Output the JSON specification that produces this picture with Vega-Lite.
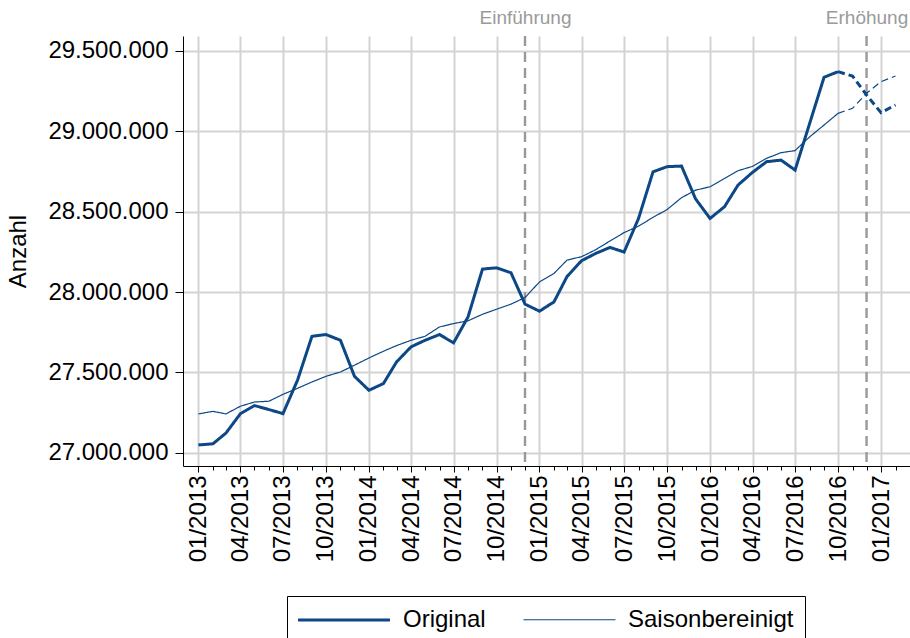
{
  "$schema": "https://vega.github.io/schema/vega-lite/v6.json",
  "width": 727,
  "height": 430,
  "autosize": {"type": "none"},
  "padding": {"left": 183, "top": 36, "right": 0, "bottom": 172},
  "background": "white",
  "config": {
    "font": "Liberation Sans",
    "view": {"stroke": null},
    "axis": {"labelColor": "black", "titleColor": "black", "titleFontWeight": "normal"}
  },
  "datasets": {
    "reihen": [
      {"monat": "2013-01-01", "reihe": "Original", "status": "endgültig", "anzahl": 27049000},
      {"monat": "2013-02-01", "reihe": "Original", "status": "endgültig", "anzahl": 27056000},
      {"monat": "2013-03-01", "reihe": "Original", "status": "endgültig", "anzahl": 27123000},
      {"monat": "2013-04-01", "reihe": "Original", "status": "endgültig", "anzahl": 27244000},
      {"monat": "2013-05-01", "reihe": "Original", "status": "endgültig", "anzahl": 27294000},
      {"monat": "2013-06-01", "reihe": "Original", "status": "endgültig", "anzahl": 27269000},
      {"monat": "2013-07-01", "reihe": "Original", "status": "endgültig", "anzahl": 27244000},
      {"monat": "2013-08-01", "reihe": "Original", "status": "endgültig", "anzahl": 27451000},
      {"monat": "2013-09-01", "reihe": "Original", "status": "endgültig", "anzahl": 27725000},
      {"monat": "2013-10-01", "reihe": "Original", "status": "endgültig", "anzahl": 27736000},
      {"monat": "2013-11-01", "reihe": "Original", "status": "endgültig", "anzahl": 27700000},
      {"monat": "2013-12-01", "reihe": "Original", "status": "endgültig", "anzahl": 27476000},
      {"monat": "2014-01-01", "reihe": "Original", "status": "endgültig", "anzahl": 27389000},
      {"monat": "2014-02-01", "reihe": "Original", "status": "endgültig", "anzahl": 27431000},
      {"monat": "2014-03-01", "reihe": "Original", "status": "endgültig", "anzahl": 27565000},
      {"monat": "2014-04-01", "reihe": "Original", "status": "endgültig", "anzahl": 27659000},
      {"monat": "2014-05-01", "reihe": "Original", "status": "endgültig", "anzahl": 27700000},
      {"monat": "2014-06-01", "reihe": "Original", "status": "endgültig", "anzahl": 27736000},
      {"monat": "2014-07-01", "reihe": "Original", "status": "endgültig", "anzahl": 27684000},
      {"monat": "2014-08-01", "reihe": "Original", "status": "endgültig", "anzahl": 27845000},
      {"monat": "2014-09-01", "reihe": "Original", "status": "endgültig", "anzahl": 28143000},
      {"monat": "2014-10-01", "reihe": "Original", "status": "endgültig", "anzahl": 28151000},
      {"monat": "2014-11-01", "reihe": "Original", "status": "endgültig", "anzahl": 28120000},
      {"monat": "2014-12-01", "reihe": "Original", "status": "endgültig", "anzahl": 27925000},
      {"monat": "2015-01-01", "reihe": "Original", "status": "endgültig", "anzahl": 27881000},
      {"monat": "2015-02-01", "reihe": "Original", "status": "endgültig", "anzahl": 27939000},
      {"monat": "2015-03-01", "reihe": "Original", "status": "endgültig", "anzahl": 28097000},
      {"monat": "2015-04-01", "reihe": "Original", "status": "endgültig", "anzahl": 28195000},
      {"monat": "2015-05-01", "reihe": "Original", "status": "endgültig", "anzahl": 28240000},
      {"monat": "2015-06-01", "reihe": "Original", "status": "endgültig", "anzahl": 28278000},
      {"monat": "2015-07-01", "reihe": "Original", "status": "endgültig", "anzahl": 28249000},
      {"monat": "2015-08-01", "reihe": "Original", "status": "endgültig", "anzahl": 28458000},
      {"monat": "2015-09-01", "reihe": "Original", "status": "endgültig", "anzahl": 28748000},
      {"monat": "2015-10-01", "reihe": "Original", "status": "endgültig", "anzahl": 28780000},
      {"monat": "2015-11-01", "reihe": "Original", "status": "endgültig", "anzahl": 28784000},
      {"monat": "2015-12-01", "reihe": "Original", "status": "endgültig", "anzahl": 28580000},
      {"monat": "2016-01-01", "reihe": "Original", "status": "endgültig", "anzahl": 28458000},
      {"monat": "2016-02-01", "reihe": "Original", "status": "endgültig", "anzahl": 28531000},
      {"monat": "2016-03-01", "reihe": "Original", "status": "endgültig", "anzahl": 28666000},
      {"monat": "2016-04-01", "reihe": "Original", "status": "endgültig", "anzahl": 28745000},
      {"monat": "2016-05-01", "reihe": "Original", "status": "endgültig", "anzahl": 28811000},
      {"monat": "2016-06-01", "reihe": "Original", "status": "endgültig", "anzahl": 28821000},
      {"monat": "2016-07-01", "reihe": "Original", "status": "endgültig", "anzahl": 28759000},
      {"monat": "2016-08-01", "reihe": "Original", "status": "endgültig", "anzahl": 29047000},
      {"monat": "2016-09-01", "reihe": "Original", "status": "endgültig", "anzahl": 29336000},
      {"monat": "2016-10-01", "reihe": "Original", "status": "endgültig", "anzahl": 29371000},
      {"monat": "2016-10-01", "reihe": "Original", "status": "vorläufig", "anzahl": 29371000},
      {"monat": "2016-11-01", "reihe": "Original", "status": "vorläufig", "anzahl": 29344000},
      {"monat": "2016-12-01", "reihe": "Original", "status": "vorläufig", "anzahl": 29226000},
      {"monat": "2017-01-01", "reihe": "Original", "status": "vorläufig", "anzahl": 29116000},
      {"monat": "2017-02-01", "reihe": "Original", "status": "vorläufig", "anzahl": 29164000},
      {"monat": "2013-01-01", "reihe": "Saisonbereinigt", "status": "endgültig", "anzahl": 27242000},
      {"monat": "2013-02-01", "reihe": "Saisonbereinigt", "status": "endgültig", "anzahl": 27258000},
      {"monat": "2013-03-01", "reihe": "Saisonbereinigt", "status": "endgültig", "anzahl": 27242000},
      {"monat": "2013-04-01", "reihe": "Saisonbereinigt", "status": "endgültig", "anzahl": 27290000},
      {"monat": "2013-05-01", "reihe": "Saisonbereinigt", "status": "endgültig", "anzahl": 27316000},
      {"monat": "2013-06-01", "reihe": "Saisonbereinigt", "status": "endgültig", "anzahl": 27321000},
      {"monat": "2013-07-01", "reihe": "Saisonbereinigt", "status": "endgültig", "anzahl": 27364000},
      {"monat": "2013-08-01", "reihe": "Saisonbereinigt", "status": "endgültig", "anzahl": 27401000},
      {"monat": "2013-09-01", "reihe": "Saisonbereinigt", "status": "endgültig", "anzahl": 27441000},
      {"monat": "2013-10-01", "reihe": "Saisonbereinigt", "status": "endgültig", "anzahl": 27476000},
      {"monat": "2013-11-01", "reihe": "Saisonbereinigt", "status": "endgültig", "anzahl": 27503000},
      {"monat": "2013-12-01", "reihe": "Saisonbereinigt", "status": "endgültig", "anzahl": 27545000},
      {"monat": "2014-01-01", "reihe": "Saisonbereinigt", "status": "endgültig", "anzahl": 27590000},
      {"monat": "2014-02-01", "reihe": "Saisonbereinigt", "status": "endgültig", "anzahl": 27632000},
      {"monat": "2014-03-01", "reihe": "Saisonbereinigt", "status": "endgültig", "anzahl": 27667000},
      {"monat": "2014-04-01", "reihe": "Saisonbereinigt", "status": "endgültig", "anzahl": 27700000},
      {"monat": "2014-05-01", "reihe": "Saisonbereinigt", "status": "endgültig", "anzahl": 27725000},
      {"monat": "2014-06-01", "reihe": "Saisonbereinigt", "status": "endgültig", "anzahl": 27783000},
      {"monat": "2014-07-01", "reihe": "Saisonbereinigt", "status": "endgültig", "anzahl": 27804000},
      {"monat": "2014-08-01", "reihe": "Saisonbereinigt", "status": "endgültig", "anzahl": 27821000},
      {"monat": "2014-09-01", "reihe": "Saisonbereinigt", "status": "endgültig", "anzahl": 27862000},
      {"monat": "2014-10-01", "reihe": "Saisonbereinigt", "status": "endgültig", "anzahl": 27893000},
      {"monat": "2014-11-01", "reihe": "Saisonbereinigt", "status": "endgültig", "anzahl": 27925000},
      {"monat": "2014-12-01", "reihe": "Saisonbereinigt", "status": "endgültig", "anzahl": 27966000},
      {"monat": "2015-01-01", "reihe": "Saisonbereinigt", "status": "endgültig", "anzahl": 28063000},
      {"monat": "2015-02-01", "reihe": "Saisonbereinigt", "status": "endgültig", "anzahl": 28116000},
      {"monat": "2015-03-01", "reihe": "Saisonbereinigt", "status": "endgültig", "anzahl": 28199000},
      {"monat": "2015-04-01", "reihe": "Saisonbereinigt", "status": "endgültig", "anzahl": 28220000},
      {"monat": "2015-05-01", "reihe": "Saisonbereinigt", "status": "endgültig", "anzahl": 28263000},
      {"monat": "2015-06-01", "reihe": "Saisonbereinigt", "status": "endgültig", "anzahl": 28318000},
      {"monat": "2015-07-01", "reihe": "Saisonbereinigt", "status": "endgültig", "anzahl": 28370000},
      {"monat": "2015-08-01", "reihe": "Saisonbereinigt", "status": "endgültig", "anzahl": 28410000},
      {"monat": "2015-09-01", "reihe": "Saisonbereinigt", "status": "endgültig", "anzahl": 28465000},
      {"monat": "2015-10-01", "reihe": "Saisonbereinigt", "status": "endgültig", "anzahl": 28513000},
      {"monat": "2015-11-01", "reihe": "Saisonbereinigt", "status": "endgültig", "anzahl": 28587000},
      {"monat": "2015-12-01", "reihe": "Saisonbereinigt", "status": "endgültig", "anzahl": 28634000},
      {"monat": "2016-01-01", "reihe": "Saisonbereinigt", "status": "endgültig", "anzahl": 28655000},
      {"monat": "2016-02-01", "reihe": "Saisonbereinigt", "status": "endgültig", "anzahl": 28707000},
      {"monat": "2016-03-01", "reihe": "Saisonbereinigt", "status": "endgültig", "anzahl": 28755000},
      {"monat": "2016-04-01", "reihe": "Saisonbereinigt", "status": "endgültig", "anzahl": 28782000},
      {"monat": "2016-05-01", "reihe": "Saisonbereinigt", "status": "endgültig", "anzahl": 28832000},
      {"monat": "2016-06-01", "reihe": "Saisonbereinigt", "status": "endgültig", "anzahl": 28867000},
      {"monat": "2016-07-01", "reihe": "Saisonbereinigt", "status": "endgültig", "anzahl": 28880000},
      {"monat": "2016-08-01", "reihe": "Saisonbereinigt", "status": "endgültig", "anzahl": 28965000},
      {"monat": "2016-09-01", "reihe": "Saisonbereinigt", "status": "endgültig", "anzahl": 29039000},
      {"monat": "2016-10-01", "reihe": "Saisonbereinigt", "status": "endgültig", "anzahl": 29112000},
      {"monat": "2016-10-01", "reihe": "Saisonbereinigt", "status": "vorläufig", "anzahl": 29112000},
      {"monat": "2016-11-01", "reihe": "Saisonbereinigt", "status": "vorläufig", "anzahl": 29143000},
      {"monat": "2016-12-01", "reihe": "Saisonbereinigt", "status": "vorläufig", "anzahl": 29237000},
      {"monat": "2017-01-01", "reihe": "Saisonbereinigt", "status": "vorläufig", "anzahl": 29309000},
      {"monat": "2017-02-01", "reihe": "Saisonbereinigt", "status": "vorläufig", "anzahl": 29344000}
    ],
    "ereignisse": [
      {"monat": "2014-12-01", "ereignis": "Einführung"},
      {"monat": "2016-12-01", "ereignis": "Erhöhung"}
    ]
  },
  "resolve": {"axis": {"x": "independent"}},
  "layer": [
    {
      "data": {"name": "ereignisse"},
      "mark": {"type": "rule", "color": "#999999", "strokeWidth": 2.4, "strokeDash": [10, 6]},
      "encoding": {
        "x": {
          "field": "monat", "type": "temporal",
          "scale": {"type": "utc", "domain": [{"year": 2012, "month": 11, "date": 29, "utc": true}, {"year": 2017, "month": 3, "date": 4, "utc": true}]},
          "axis": {
            "orient": "top", "title": null, "domain": false, "ticks": false, "grid": false,
            "values": [{"year": 2014, "month": 12, "date": 1, "utc": true}, {"year": 2016, "month": 12, "date": 1, "utc": true}],
            "labelExpr": "utcyear(datum.value) == 2014 ? 'Einführung' : 'Erhöhung'",
            "labelColor": "#9a9a9a", "labelFontSize": 19, "labelPadding": 9, "labelAngle": 0,
            "labelFlush": false, "labelOverlap": false
          }
        }
      }
    },
    {
      "data": {"name": "reihen"},
      "transform": [{"filter": "datum.reihe == 'Saisonbereinigt'"}],
      "mark": {"type": "line"},
      "encoding": {
        "x": {
          "field": "monat", "type": "temporal",
          "scale": {"type": "utc", "domain": [{"year": 2012, "month": 11, "date": 29, "utc": true}, {"year": 2017, "month": 3, "date": 4, "utc": true}]},
          "axis": {
            "orient": "bottom", "title": null, "domain": false, "labels": false, "grid": false,
            "tickSize": 4, "tickColor": "black", "tickWidth": 1,
            "values": [
              {"year": 2013, "month": 1, "date": 1, "utc": true}, {"year": 2013, "month": 2, "date": 1, "utc": true}, {"year": 2013, "month": 3, "date": 1, "utc": true}, {"year": 2013, "month": 4, "date": 1, "utc": true}, {"year": 2013, "month": 5, "date": 1, "utc": true}, {"year": 2013, "month": 6, "date": 1, "utc": true}, {"year": 2013, "month": 7, "date": 1, "utc": true}, {"year": 2013, "month": 8, "date": 1, "utc": true}, {"year": 2013, "month": 9, "date": 1, "utc": true}, {"year": 2013, "month": 10, "date": 1, "utc": true}, {"year": 2013, "month": 11, "date": 1, "utc": true}, {"year": 2013, "month": 12, "date": 1, "utc": true},
              {"year": 2014, "month": 1, "date": 1, "utc": true}, {"year": 2014, "month": 2, "date": 1, "utc": true}, {"year": 2014, "month": 3, "date": 1, "utc": true}, {"year": 2014, "month": 4, "date": 1, "utc": true}, {"year": 2014, "month": 5, "date": 1, "utc": true}, {"year": 2014, "month": 6, "date": 1, "utc": true}, {"year": 2014, "month": 7, "date": 1, "utc": true}, {"year": 2014, "month": 8, "date": 1, "utc": true}, {"year": 2014, "month": 9, "date": 1, "utc": true}, {"year": 2014, "month": 10, "date": 1, "utc": true}, {"year": 2014, "month": 11, "date": 1, "utc": true}, {"year": 2014, "month": 12, "date": 1, "utc": true},
              {"year": 2015, "month": 1, "date": 1, "utc": true}, {"year": 2015, "month": 2, "date": 1, "utc": true}, {"year": 2015, "month": 3, "date": 1, "utc": true}, {"year": 2015, "month": 4, "date": 1, "utc": true}, {"year": 2015, "month": 5, "date": 1, "utc": true}, {"year": 2015, "month": 6, "date": 1, "utc": true}, {"year": 2015, "month": 7, "date": 1, "utc": true}, {"year": 2015, "month": 8, "date": 1, "utc": true}, {"year": 2015, "month": 9, "date": 1, "utc": true}, {"year": 2015, "month": 10, "date": 1, "utc": true}, {"year": 2015, "month": 11, "date": 1, "utc": true}, {"year": 2015, "month": 12, "date": 1, "utc": true},
              {"year": 2016, "month": 1, "date": 1, "utc": true}, {"year": 2016, "month": 2, "date": 1, "utc": true}, {"year": 2016, "month": 3, "date": 1, "utc": true}, {"year": 2016, "month": 4, "date": 1, "utc": true}, {"year": 2016, "month": 5, "date": 1, "utc": true}, {"year": 2016, "month": 6, "date": 1, "utc": true}, {"year": 2016, "month": 7, "date": 1, "utc": true}, {"year": 2016, "month": 8, "date": 1, "utc": true}, {"year": 2016, "month": 9, "date": 1, "utc": true}, {"year": 2016, "month": 10, "date": 1, "utc": true}, {"year": 2016, "month": 11, "date": 1, "utc": true}, {"year": 2016, "month": 12, "date": 1, "utc": true},
              {"year": 2017, "month": 1, "date": 1, "utc": true}, {"year": 2017, "month": 2, "date": 1, "utc": true}
            ]
          }
        },
        "y": {
          "field": "anzahl", "type": "quantitative",
          "scale": {"domain": [26918000, 29593000], "nice": false, "zero": false},
          "axis": {
            "title": "Anzahl", "titleFontSize": 24, "titlePadding": 17,
            "values": [27000000, 27500000, 28000000, 28500000, 29000000, 29500000],
            "labelExpr": "replace(format(datum.value, ',d'), regexp(',', 'g'), '.')",
            "labelFontSize": 24, "labelPadding": 7, "tickSize": 8, "tickColor": "black",
            "domainColor": "black", "grid": true, "gridColor": "#d3d3d3", "gridWidth": 2
          }
        },
        "color": {"field": "reihe", "type": "nominal", "scale": {"domain": ["Original", "Saisonbereinigt"], "range": ["#0c4786", "#0c4786"]}},
        "strokeWidth": {"field": "reihe", "type": "nominal", "scale": {"domain": ["Original", "Saisonbereinigt"], "range": [3, 1.2]}},
        "strokeDash": {"field": "status", "type": "nominal", "scale": {"domain": ["endgültig", "vorläufig"], "range": [[1, 0], [7, 4]]}, "legend": null}
      }
    },
    {
      "data": {"name": "reihen"},
      "transform": [{"filter": "datum.reihe == 'Original'"}],
      "mark": {"type": "line"},
      "encoding": {
        "x": {
          "field": "monat", "type": "temporal",
          "scale": {"type": "utc", "domain": [{"year": 2012, "month": 11, "date": 29, "utc": true}, {"year": 2017, "month": 3, "date": 4, "utc": true}]},
          "axis": {
            "orient": "bottom", "title": null, "format": "%m/%Y",
            "values": [
              {"year": 2013, "month": 1, "date": 1, "utc": true}, {"year": 2013, "month": 4, "date": 1, "utc": true}, {"year": 2013, "month": 7, "date": 1, "utc": true}, {"year": 2013, "month": 10, "date": 1, "utc": true},
              {"year": 2014, "month": 1, "date": 1, "utc": true}, {"year": 2014, "month": 4, "date": 1, "utc": true}, {"year": 2014, "month": 7, "date": 1, "utc": true}, {"year": 2014, "month": 10, "date": 1, "utc": true},
              {"year": 2015, "month": 1, "date": 1, "utc": true}, {"year": 2015, "month": 4, "date": 1, "utc": true}, {"year": 2015, "month": 7, "date": 1, "utc": true}, {"year": 2015, "month": 10, "date": 1, "utc": true},
              {"year": 2016, "month": 1, "date": 1, "utc": true}, {"year": 2016, "month": 4, "date": 1, "utc": true}, {"year": 2016, "month": 7, "date": 1, "utc": true}, {"year": 2016, "month": 10, "date": 1, "utc": true},
              {"year": 2017, "month": 1, "date": 1, "utc": true}
            ],
            "labelAngle": 270, "labelAlign": "right", "labelBaseline": "middle", "labelFontSize": 24,
            "labelPadding": 3, "labelFlush": false, "labelOverlap": false,
            "tickSize": 6, "tickColor": "black", "domainColor": "black",
            "grid": true, "gridColor": "#d3d3d3", "gridWidth": 2
          }
        },
        "y": {
          "field": "anzahl", "type": "quantitative",
          "scale": {"domain": [26918000, 29593000], "nice": false, "zero": false},
          "axis": {
            "title": "Anzahl", "titleFontSize": 24, "titlePadding": 17,
            "values": [27000000, 27500000, 28000000, 28500000, 29000000, 29500000],
            "labelExpr": "replace(format(datum.value, ',d'), regexp(',', 'g'), '.')",
            "labelFontSize": 24, "labelPadding": 7, "tickSize": 8, "tickColor": "black",
            "domainColor": "black", "grid": true, "gridColor": "#d3d3d3", "gridWidth": 2
          }
        },
        "color": {
          "field": "reihe", "type": "nominal",
          "scale": {"domain": ["Original", "Saisonbereinigt"], "range": ["#0c4786", "#0c4786"]},
          "legend": {
            "title": null, "orient": "none", "legendX": 104, "legendY": 560, "direction": "horizontal",
            "strokeColor": "black", "padding": 11, "symbolType": "M-4,0H4", "symbolSize": 529,
            "symbolOffset": 33, "labelOffset": 46, "labelLimit": 400, "columnPadding": 35, "labelFontSize": 24, "labelColor": "black"
          }
        },
        "strokeWidth": {
          "field": "reihe", "type": "nominal",
          "scale": {"domain": ["Original", "Saisonbereinigt"], "range": [3, 1.2]},
          "legend": {
            "title": null, "orient": "none", "legendX": 104, "legendY": 560, "direction": "horizontal",
            "strokeColor": "black", "padding": 11, "symbolType": "M-4,0H4", "symbolSize": 529,
            "symbolOffset": 33, "labelOffset": 46, "labelLimit": 400, "columnPadding": 35, "labelFontSize": 24, "labelColor": "black"
          }
        },
        "strokeDash": {"field": "status", "type": "nominal", "scale": {"domain": ["endgültig", "vorläufig"], "range": [[1, 0], [7, 4]]}, "legend": null}
      }
    }
  ]
}
